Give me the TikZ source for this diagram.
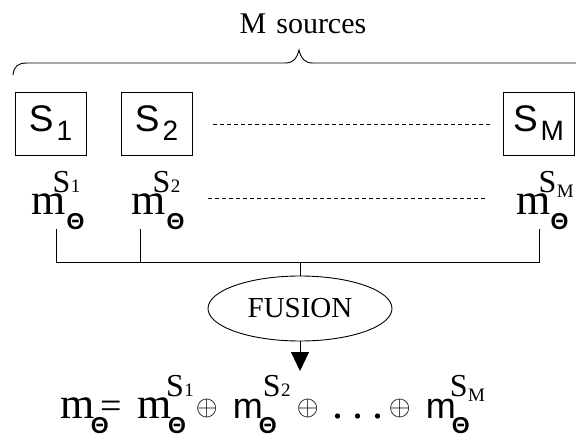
\documentclass[tikz,border=0pt]{standalone}
\usepackage{fontspec}
\usepackage{graphicx}
\setmainfont{Liberation Serif}
\newfontfamily\arial{Liberation Sans}
\usetikzlibrary{positioning,arrows.meta,shapes.geometric}
% letter sizes
\newcommand{\tmf}{\rmfamily\fontsize{44}{44}\selectfont}
\newcommand{\smf}{\arial\fontsize{36}{36}\selectfont}
\newcommand{\thf}{\arial\bfseries\fontsize{23}{23}\selectfont}
\newcommand{\opf}{\raisebox{3pt}{\scalebox{2.8}{$\oplus$}}}
\newcommand{\putat}[2]{\rlap{\kern#1pt#2}}
% source inside a box
\newcommand{\srcS}[1]{{\arial\fontsize{37}{37}\selectfont S\kern3pt\raisebox{-9pt}{\fontsize{28}{28}\selectfont #1}}}
% mass of one source: m font, index, kern of S, kern of Theta
\newcommand{\mlab}[4]{{#1m}\makebox[0pt][l]{\kern#3\raisebox{22pt}{\fontsize{32}{32}\selectfont S\kern0.5pt\fontsize{19}{19}\selectfont #2}}\kern#4\raisebox{-15pt}{\thf Θ}}

\begin{document}
\begin{tikzpicture}[x=1pt, y=-1pt, line width=0.9pt,
  srcbox/.style={draw, minimum width=71pt, minimum height=63pt, inner sep=0pt},
  dots/.style={dashed, dash pattern=on 4pt off 3pt, line width=0.7pt}]
\useasboundingbox (0,0) rectangle (576,437);
\node[font=\fontsize{30}{30}\selectfont] (title) at (303,24) {M\kern10pt sources};
\draw (13,75) .. controls (14,66) and (18,63) .. (27,63) -- (285,63)
  .. controls (294,63) and (297,58) .. (299,50)
  .. controls (301,58) and (304,63) .. (313,63) -- (580,63);
% the sources
\node[srcbox] (s1) at (50.5,123.5) {\srcS{1}};
\node[srcbox] (s2) at (156.5,123.5) {\srcS{2}};
\node[srcbox] (sM) at (538.5,123.5) {\srcS{M}};
\coordinate (d1a) at (213,124);
\coordinate (d1b) at (492,124);
\draw[dots] (d1a) -- (d1b);
% their masses
\node[anchor=base west, inner sep=0pt] (m1) at (31,214) {\mlab{\tmf}{1}{-13pt}{1pt}};
\node[anchor=base west, inner sep=0pt] (m2) at (131,214) {\mlab{\tmf}{2}{-13pt}{1pt}};
\node[anchor=base west, inner sep=0pt] (mM) at (516,214) {\mlab{\tmf}{\raisebox{-5pt}{M}}{-12pt}{0pt}};
\coordinate (d2a) at (208,198);
\coordinate (d2b) at (486,198);
\draw[dots] (d2a) -- (d2b);
\coordinate (t1) at (56,229);
\coordinate (t2) at (140,229);
\coordinate (tM) at (539,229);
\coordinate (j1) at (56,262);
\coordinate (j2) at (140,262);
\coordinate (jc) at (300,262);
\coordinate (jM) at (539,262);
\draw (t1) -- (j1) -- (jM) -- (tM);
\draw (t2) -- (j2);
% fusion
\node[draw, ellipse, minimum width=184pt, minimum height=65pt, inner sep=0pt,
  font=\fontsize{29}{29}\selectfont] (fusion) at (300,308.5) {FUSION};
\draw (jc) -- (fusion.north);
\coordinate (tip) at (300,371);
\draw[-{Triangle[width=18pt,length=19pt]}] (fusion.south) -- (tip);
\node[anchor=base west, inner sep=0pt] (eq) at (60,418) {%
  \putat{0}{\tmf m}\putat{30}{\raisebox{-15pt}{\thf Θ}}\putat{40}{\fontsize{38}{38}\selectfont =}%
  \putat{77}{\mlab{\tmf}{1}{-6pt}{-4pt}}\putat{135}{\opf}%
  \putat{172}{\mlab{\smf}{2}{0pt}{-4pt}}\putat{236}{\opf}%
  \putat{272}{\tmf .}\putat{292}{\tmf .}\putat{312}{\tmf .}%
  \putat{328}{\opf}\putat{365}{\mlab{\smf}{\raisebox{-5pt}{M}}{-6pt}{-4pt}}};
\end{tikzpicture}
\end{document}
